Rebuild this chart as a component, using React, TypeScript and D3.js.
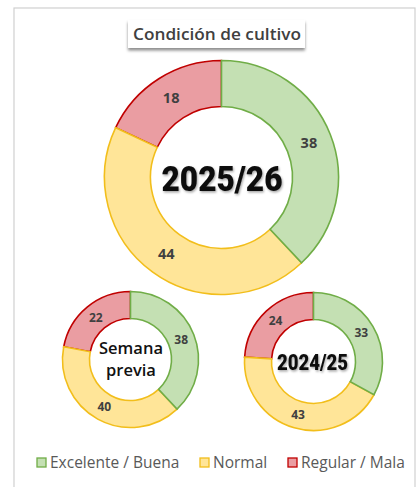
import React from "react";
import * as d3 from "d3";

// crop condition shares (%)
const categories = ["Excelente / Buena", "Normal", "Regular / Mala"];
const current = [38, 44, 18];
const previousWeek = [38, 40, 22];
const lastSeason = [33, 43, 24];

const fills = ["#C4E0B3", "#FFE598", "#EA9DA2"];
const strokes = ["#70AD47", "#F2BE1B", "#C00000"];

const width = 419;
const height = 487;

type DonutProps = {
  values: number[];
  cx: number;
  cy: number;
  outer: number;
  inner: number;
  fontSize: number;
};

function Donut({ values, cx, cy, outer, inner, fontSize }: DonutProps) {
  const pie = d3
    .pie<number>()
    .sort(null)
    .value((d) => d);
  const arc = d3.arc<d3.PieArcDatum<number>>().innerRadius(inner).outerRadius(outer);
  const arcs = pie(values);
  // draw red first so green/yellow borders stay on top like in the original
  const order = [2, 1, 0];
  return (
    <g transform={`translate(${cx},${cy})`}>
      {order.map((i) => (
        <path
          key={i}
          d={arc(arcs[i]) || ""}
          fill={fills[i]}
          stroke={strokes[i]}
          strokeWidth={1.6}
          strokeLinejoin="miter"
        />
      ))}
      {arcs.map((a, i) => {
        const [x, y] = arc.centroid(a);
        return (
          <text
            key={"t" + i}
            x={x}
            y={y}
            dy="0.35em"
            textAnchor="middle"
            fontFamily="'Open Sans', sans-serif"
            fontWeight={700}
            fontSize={fontSize}
            fill="#404040"
          >
            {a.data}
          </text>
        );
      })}
    </g>
  );
}

export default function App() {
  const legendX = [36, 199, 287];
  return (
    <svg
      width={width}
      height={height}
      viewBox={`0 0 ${width} ${height}`}
      style={{ position: "absolute", left: 0, top: 0, background: "#fff" }}
    >
      <defs>
        <filter id="boxShadow" x="-10%" y="-30%" width="120%" height="180%">
          <feDropShadow dx="0" dy="2.5" stdDeviation="1.8" floodColor="#000" floodOpacity="0.45" />
        </filter>
        <filter id="txtShadow" x="-10%" y="-20%" width="120%" height="150%">
          <feDropShadow dx="1" dy="1.5" stdDeviation="1" floodColor="#000" floodOpacity="0.35" />
        </filter>
      </defs>

      {/* frame */}
      <rect x={14} y={8} width={401} height={490} fill="#fff" stroke="#D0D0D0" strokeWidth={1.2} />

      {/* title */}
      <rect x={128} y={20} width={177} height={28} fill="#fff" filter="url(#boxShadow)" />
      <text
        x={217}
        y={40}
        textAnchor="middle"
        fontFamily="'Open Sans', sans-serif"
        fontWeight={600}
        fontSize={16.5}
        textLength={168}
        lengthAdjust="spacingAndGlyphs"
        fill="#404040"
      >
        Condición de cultivo
      </text>

      <Donut values={current} cx={221.5} cy={177.5} outer={117} inner={71} fontSize={14.5} />
      <Donut values={previousWeek} cx={130.5} cy={359.5} outer={68} inner={41} fontSize={12} />
      <Donut values={lastSeason} cx={313.5} cy={361.5} outer={69} inner={42} fontSize={12} />

      {/* centre labels */}
      <text
        x={222}
        y={178}
        dy="0.36em"
        textAnchor="middle"
        fontFamily="Roboto, sans-serif"
        fontWeight={900}
        fontSize={35}
        textLength={121}
        lengthAdjust="spacingAndGlyphs"
        fill="#0d0d0d"
        filter="url(#txtShadow)"
      >
        2025/26
      </text>
      <text
        textAnchor="middle"
        fontFamily="'Open Sans', sans-serif"
        fontWeight={600}
        fontSize={16.5}
        fill="#111"
      >
        <tspan x={131} y={354}>Semana</tspan>
        <tspan x={131} y={376}>previa</tspan>
      </text>
      <text
        x={312.5}
        y={362}
        dy="0.36em"
        textAnchor="middle"
        fontFamily="Roboto, sans-serif"
        fontWeight={900}
        fontSize={22}
        textLength={71}
        lengthAdjust="spacingAndGlyphs"
        fill="#111"
        filter="url(#txtShadow)"
      >
        2024/25
      </text>

      {/* legend */}
      {categories.map((c, i) => (
        <g key={c} transform={`translate(${legendX[i]},458)`}>
          <rect x={1} y={0} width={9} height={9} fill={fills[i]} stroke={strokes[i]} strokeWidth={1.3} />
          <text
            x={14}
            y={10}
            fontFamily="'Open Sans', sans-serif"
            fontSize={15.5}
            fill="#595959"
          >
            {c}
          </text>
        </g>
      ))}
    </svg>
  );
}
